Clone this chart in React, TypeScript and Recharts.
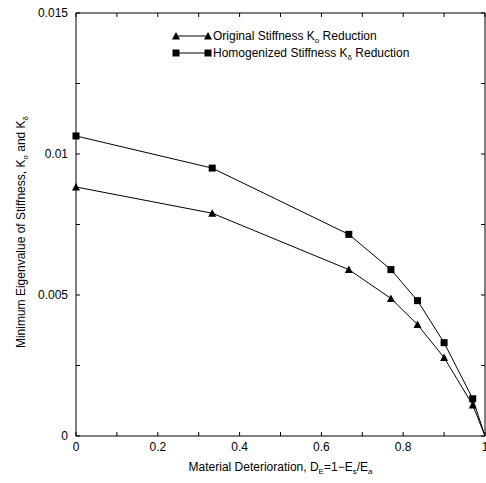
import { LineChart, Line, XAxis, YAxis, Label } from "recharts";

const deterioration = [0, 0.333, 0.667, 0.77, 0.835, 0.9, 0.97, 1];
const originalK = [0.00883, 0.0079, 0.0059, 0.00488, 0.00395, 0.00278, 0.0011, 0];
const homogenizedK = [0.01064, 0.0095, 0.00715, 0.0059, 0.0048, 0.00331, 0.00132, 0];

const xTicks = [0, 0.1, 0.2, 0.3, 0.4, 0.5, 0.6, 0.7, 0.8, 0.9, 1];
const xTickLabels = ["0", "", "0.2", "", "0.4", "", "0.6", "", "0.8", "", "1"];
const yTicks = [0, 0.0025, 0.005, 0.0075, 0.01, 0.0125, 0.015];
const yTickLabels = ["0", "", "0.005", "", "0.01", "", "0.015"];

const FONT = "'Liberation Sans', Arial, sans-serif";

const data = deterioration.map((d, i) => ({
  d,
  original: originalK[i],
  homogenized: homogenizedK[i],
}));

const TICK = 4;

const BottomTick = (props: any) => {
  const { x, y, index } = props;
  return (
    <g>
      <line x1={x} y1={y} x2={x} y2={y - TICK} stroke="#000" />
      <text x={x} y={y + 15} textAnchor="middle" fontSize={12} fontFamily={FONT} fill="#000">
        {xTickLabels[index]}
      </text>
    </g>
  );
};

const TopTick = (props: any) => {
  const { x, y } = props;
  return <line x1={x} y1={y} x2={x} y2={y + TICK} stroke="#000" />;
};

const LeftTick = (props: any) => {
  const { x, y, index } = props;
  return (
    <g>
      <line x1={x} y1={y} x2={x + TICK} y2={y} stroke="#000" />
      <text x={x - 8} y={y + 4} textAnchor="end" fontSize={12} fontFamily={FONT} fill="#000">
        {yTickLabels[index]}
      </text>
    </g>
  );
};

const RightTick = (props: any) => {
  const { x, y } = props;
  return <line x1={x} y1={y} x2={x - TICK} y2={y} stroke="#000" />;
};

const Triangle = (props: any) => {
  const { cx, cy, index } = props;
  if (index === deterioration.length - 1 || cx == null) return <g key={index} />;
  return (
    <path
      key={index}
      d={`M${cx - 4},${cy + 3.5} L${cx + 4},${cy + 3.5} L${cx},${cy - 4} Z`}
      fill="#000"
    />
  );
};

const Square = (props: any) => {
  const { cx, cy, index } = props;
  if (index === deterioration.length - 1 || cx == null) return <g key={index} />;
  return <rect key={index} x={cx - 3.5} y={cy - 3.5} width={7} height={7} fill="#000" />;
};

const LegendBox = () => (
  <svg width={260} height={40} style={{ display: "block" }}>
    <g fontFamily={FONT} fontSize={12} fill="#000">
      <line x1={4} y1={12} x2={36} y2={12} stroke="#000" />
      <path d="M0,15.5 L8,15.5 L4,8 Z" fill="#000" />
      <path d="M32,15.5 L40,15.5 L36,8 Z" fill="#000" />
      <text x={41} y={16}>
        Original Stiffness K<tspan dy={3} fontSize={8}>o</tspan>
        <tspan dy={-3}> Reduction</tspan>
      </text>
      <line x1={4} y1={29} x2={36} y2={29} stroke="#000" />
      <rect x={0.5} y={25.5} width={7} height={7} />
      <rect x={32.5} y={25.5} width={7} height={7} />
      <text x={41} y={33}>
        Homogenized Stiffness K<tspan dy={3} fontSize={8}>δ</tspan>
        <tspan dy={-3}> Reduction</tspan>
      </text>
    </g>
  </svg>
);

const XTitle = (props: any) => {
  const { viewBox } = props;
  const cx = viewBox.x + viewBox.width / 2;
  return (
    <text x={cx} y={471} textAnchor="middle" fontFamily={FONT} fontSize={12} fill="#000">
      Material Deterioration, D<tspan dy={3} fontSize={8}>E</tspan>
      <tspan dy={-3}>=1−E</tspan>
      <tspan dy={3} fontSize={8}>s</tspan>
      <tspan dy={-3}>/E</tspan>
      <tspan dy={3} fontSize={8}>a</tspan>
    </text>
  );
};

const YTitle = () => {
  const x = 25;
  const y = 232;
  return (
    <text
      x={x}
      y={y}
      transform={`rotate(-90, ${x}, ${y})`}
      textAnchor="middle"
      fontFamily={FONT}
      fontSize={12}
      fill="#000"
    >
      Minimum Eigenvalue of Stiffness, K<tspan dy={3} fontSize={8}>o</tspan>
      <tspan dy={-3}> and K</tspan>
      <tspan dy={3} fontSize={8}>δ</tspan>
    </text>
  );
};

export default function App() {
  return (
    <div style={{ position: "absolute", left: 0, top: 0, background: "#fff" }}>
      <LineChart
        width={486}
        height={483}
        data={data}
        margin={{ top: 12, right: 0, bottom: 0, left: 0 }}
      >
        <XAxis
          xAxisId="bottom"
          dataKey="d"
          type="number"
          domain={[0, 1]}
          ticks={xTicks}
          interval={0}
          height={47}
          tickSize={0}
          tickMargin={0}
          tick={<BottomTick />}
          axisLine={{ stroke: "#000" }}
        >
          <Label content={<XTitle />} />
        </XAxis>
        <XAxis
          xAxisId="top"
          orientation="top"
          dataKey="d"
          type="number"
          domain={[0, 1]}
          ticks={xTicks}
          interval={0}
          height={1}
          tickSize={0}
          tickMargin={0}
          tick={<TopTick />}
          axisLine={{ stroke: "#000" }}
        />
        <YAxis
          yAxisId="left"
          type="number"
          domain={[0, 0.015]}
          ticks={yTicks}
          interval={0}
          width={76}
          tickSize={0}
          tickMargin={0}
          tick={<LeftTick />}
          axisLine={{ stroke: "#000" }}
        >
          <Label content={<YTitle />} />
        </YAxis>
        <YAxis
          yAxisId="right"
          orientation="right"
          type="number"
          domain={[0, 0.015]}
          ticks={yTicks}
          interval={0}
          width={1}
          tickSize={0}
          tickMargin={0}
          tick={<RightTick />}
          axisLine={{ stroke: "#000" }}
        />
        <Line
          xAxisId="bottom"
          yAxisId="left"
          dataKey="original"
          stroke="#000"
          strokeWidth={1}
          dot={<Triangle />}
          isAnimationActive={false}
          legendType="none"
        />
        <Line
          xAxisId="bottom"
          yAxisId="left"
          dataKey="homogenized"
          stroke="#000"
          strokeWidth={1}
          dot={<Square />}
          isAnimationActive={false}
          legendType="none"
        />
        <Line
          xAxisId="top"
          yAxisId="right"
          dataKey="original"
          stroke="none"
          dot={false}
          activeDot={false}
          isAnimationActive={false}
          legendType="none"
        />
      </LineChart>
      <div style={{ position: "absolute", left: 172, top: 24 }}>
        <LegendBox />
      </div>
    </div>
  );
}
